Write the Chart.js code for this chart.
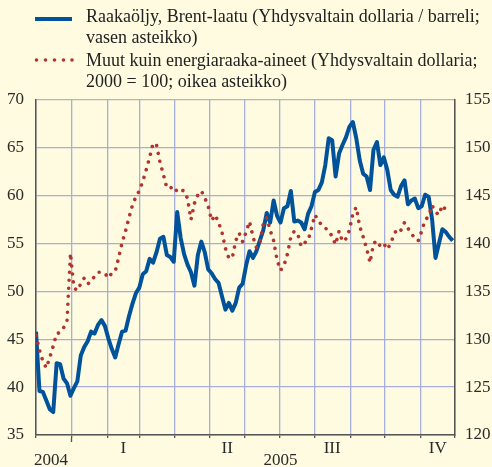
<!DOCTYPE html>
<html>
<head>
<meta charset="utf-8">
<script src="https://cdn.jsdelivr.net/npm/chart.js@4"></script>
<style>
  html, body { margin: 0; padding: 0; background: #fefbe0; }
  #wrap { position: relative; width: 492px; height: 467px; overflow: hidden; }
  #chart { position: absolute; left: 0; top: 0; }
  #swatches { position: absolute; left: 0; top: 0; }
  .legend { position: absolute; left: 86px; font-family: "Liberation Serif", serif; font-size: 18px;
            line-height: 21px; color: #222; white-space: nowrap; }
</style>
</head>
<body>
<div id="wrap">
  <canvas id="chart" width="492" height="467"></canvas>
  <svg id="swatches" width="90" height="80">
    <line x1="35" y1="19" x2="72" y2="19" stroke="#00529b" stroke-width="4"/>
    <circle cx="36.5" cy="60" r="1.8" fill="#b3332e"/>
    <circle cx="45.5" cy="60" r="1.8" fill="#b3332e"/>
    <circle cx="54.5" cy="60" r="1.8" fill="#b3332e"/>
    <circle cx="63.5" cy="60" r="1.8" fill="#b3332e"/>
    <circle cx="72" cy="60" r="1.8" fill="#b3332e"/>
  </svg>
  <div class="legend" style="top:6px">Raakaöljy, Brent-laatu (Yhdysvaltain dollaria / barreli;<br>vasen asteikko)</div>
  <div class="legend" style="top:50px">Muut kuin energiaraaka-aineet (Yhdysvaltain dollaria;<br>2000 = 100; oikea asteikko)</div>
</div>
<script>
// Days counted from 1 Dec 2004, one value every 3 days
const dayStep = 3;

// Brent crude, USD / barrel (left axis)
const brentPrices = [
  45.8, 39.6, 39.5, 38.6, 37.7, 37.4, 42.5, 42.4, 40.9, 40.4,
  39.1, 39.9, 40.6, 43.3, 44.2, 44.8, 45.8, 45.6, 46.5, 47.0,
  46.4, 45.1, 44.0, 43.1, 44.5, 45.8, 45.9, 47.4, 48.7, 49.8,
  50.4, 51.8, 52.1, 53.4, 53.0, 54.1, 55.5, 55.7, 53.8, 53.6,
  53.1, 58.3, 55.6, 53.9, 52.8, 52.0, 50.6, 53.8, 55.2, 54.1,
  52.3, 51.9, 51.3, 50.9, 49.5, 48.1, 48.8, 48.0, 48.8, 50.4,
  50.8, 52.7, 54.2, 53.5, 54.2, 55.3, 56.4, 58.2, 57.2, 59.5,
  57.9, 57.2, 58.7, 58.9, 60.5, 57.3, 57.4, 57.2, 56.5, 58.1,
  58.9, 60.4, 60.6, 61.4, 63.2, 66.0, 65.8, 62.0, 64.4, 65.3,
  66.1, 67.2, 67.7, 66.0, 63.7, 62.3, 62.0, 60.6, 64.8, 65.6,
  63.2, 64.0, 62.7, 60.6, 60.1, 59.9, 61.0, 61.6, 59.1, 59.5,
  59.7, 58.7, 58.9, 60.1, 59.9, 57.6, 53.5, 55.0, 56.5, 56.2,
  55.7, 55.3
];

// Non-energy commodities, USD, 2000 = 100 (right axis)
const nonEnergyIndex = [
  130.4, 128.9, 127.7, 127.0, 128.1, 129.3, 130.6, 130.7, 131.2, 131.9,
  139.0, 135.4, 135.1, 135.8, 136.4, 135.8, 136.0, 136.6, 137.0, 137.0,
  136.9, 136.4, 136.9, 137.1, 138.5, 140.1, 141.3, 142.7, 144.0, 144.9,
  145.5, 146.5, 147.7, 149.0, 150.5, 150.3, 148.5, 147.2, 145.8, 145.8,
  146.0, 145.4, 145.6, 145.5, 144.7, 142.5, 144.2, 145.1, 145.5, 144.8,
  143.9, 142.4, 143.0, 142.2, 141.2, 139.5, 138.5, 138.5, 140.3, 141.1,
  140.2, 141.2, 142.3, 140.7, 139.6, 140.0, 142.1, 142.7, 141.4, 140.3,
  138.3, 137.2, 137.7, 138.9, 140.7, 141.3, 141.0, 139.7, 140.1, 140.3,
  141.6, 143.0, 142.4, 141.9, 141.6, 141.4, 140.7, 139.9, 141.3, 140.2,
  140.5, 141.4, 143.1, 143.8, 141.8, 140.7, 139.5, 138.0, 140.0, 140.3,
  139.7, 140.0, 139.4, 140.0, 141.0, 141.6, 141.4, 142.2, 141.6, 141.1,
  140.5, 140.3, 141.3, 142.5, 142.8, 144.0, 143.3, 143.0, 144.0, 143.5
];

// Axis layout (days)
const monthStarts = [0, 31, 62, 90, 121, 151, 182, 212, 243, 274, 304, 335, 365];
const yearBoundary = 31;
const quarterDays = [76, 166.5, 258, 350];
const quarterLabels = ['I', 'II', 'III', 'IV'];
const yearDays = [13, 213];
const yearLabels = ['2004', '2005'];

const blue = '#00529b';
const red = '#b3332e';
const gridBlue = '#a6afdb';
const axisGrey = '#555555';
const textColor = '#2a2a2a';
const serif = '"Liberation Serif", "Times New Roman", serif';

// ticks for the label axis: quarters on line 1, years on line 2
const xLabelItems = [];
quarterDays.forEach((d, i) => xLabelItems.push({ value: d, label: quarterLabels[i] }));
yearDays.forEach((d, i) => xLabelItems.push({ value: d, label: ['', yearLabels[i]] }));
xLabelItems.push({ value: yearBoundary, label: '' });
xLabelItems.sort((a, b) => a.value - b.value);

const ctx = document.getElementById('chart').getContext('2d');

new Chart(ctx, {
  type: 'line',
  data: {
    datasets: [
      {
        label: 'Muut kuin energiaraaka-aineet',
        data: nonEnergyIndex.map((v, i) => ({ x: i * dayStep, y: v })),
        yAxisID: 'y2',
        xAxisID: 'x',
        borderColor: red,
        borderWidth: 3.6,
        borderDash: [0.01, 8],
        borderCapStyle: 'round',
        pointRadius: 0,
        tension: 0,
        order: 0
      },
      {
        label: 'Raakaöljy, Brent-laatu',
        data: brentPrices.map((v, i) => ({ x: i * dayStep, y: v })),
        yAxisID: 'y',
        xAxisID: 'x',
        borderColor: blue,
        borderWidth: 4,
        borderJoinStyle: 'round',
        pointRadius: 0,
        tension: 0,
        order: 1
      }
    ]
  },
  options: {
    responsive: false,
    animation: false,
    layout: { padding: { top: 100, left: 0, right: 0, bottom: 0 } },
    plugins: {
      legend: { display: false },
      tooltip: { enabled: false }
    },
    scales: {
      x: {
        type: 'linear',
        position: 'bottom',
        weight: 0,
        min: 0,
        max: 365,
        afterBuildTicks: s => { s.ticks = monthStarts.map(v => ({ value: v })); },
        ticks: { display: false },
        grid: {
          color: gridBlue,
          lineWidth: 1.3,
          drawTicks: true,
          tickLength: 3,
          tickColor: axisGrey,
          tickWidth: 1.3
        },
        border: { display: true, color: axisGrey, width: 1.5 }
      },
      xl: {
        type: 'linear',
        position: 'bottom',
        weight: 1,
        min: 0,
        max: 365,
        afterBuildTicks: s => { s.ticks = xLabelItems.map(t => ({ value: t.value })); },
        ticks: {
          autoSkip: false,
          maxRotation: 0,
          padding: 0,
          color: textColor,
          font: { family: serif, size: 17, lineHeight: '12.5px' },
          callback: (v, i) => xLabelItems[i].label
        },
        grid: {
          display: true,
          drawOnChartArea: false,
          drawTicks: true,
          tickLength: 4,
          tickWidth: 1.3,
          tickColor: c => (c.tick && c.tick.value === yearBoundary) ? axisGrey : 'rgba(0,0,0,0)'
        },
        border: { display: false }
      },
      y: {
        position: 'left',
        min: 35,
        max: 70,
        afterFit: s => { s.width = 36; },
        ticks: {
          stepSize: 5,
          padding: 12,
          color: textColor,
          font: { family: serif, size: 17 }
        },
        grid: {
          color: c => (c.tick && c.tick.value === 70) ? '#b5b5b5' : gridBlue,
          lineWidth: 1.3,
          drawTicks: false
        },
        border: { display: true, color: axisGrey, width: 1.5 }
      },
      y2: {
        position: 'right',
        min: 120,
        max: 155,
        afterFit: s => { s.width = 37; },
        ticks: {
          stepSize: 5,
          padding: 10,
          color: textColor,
          font: { family: serif, size: 17 }
        },
        grid: { drawOnChartArea: false, drawTicks: false },
        border: { display: true, color: axisGrey, width: 1.5 }
      }
    }
  }
});
</script>
</body>
</html>
